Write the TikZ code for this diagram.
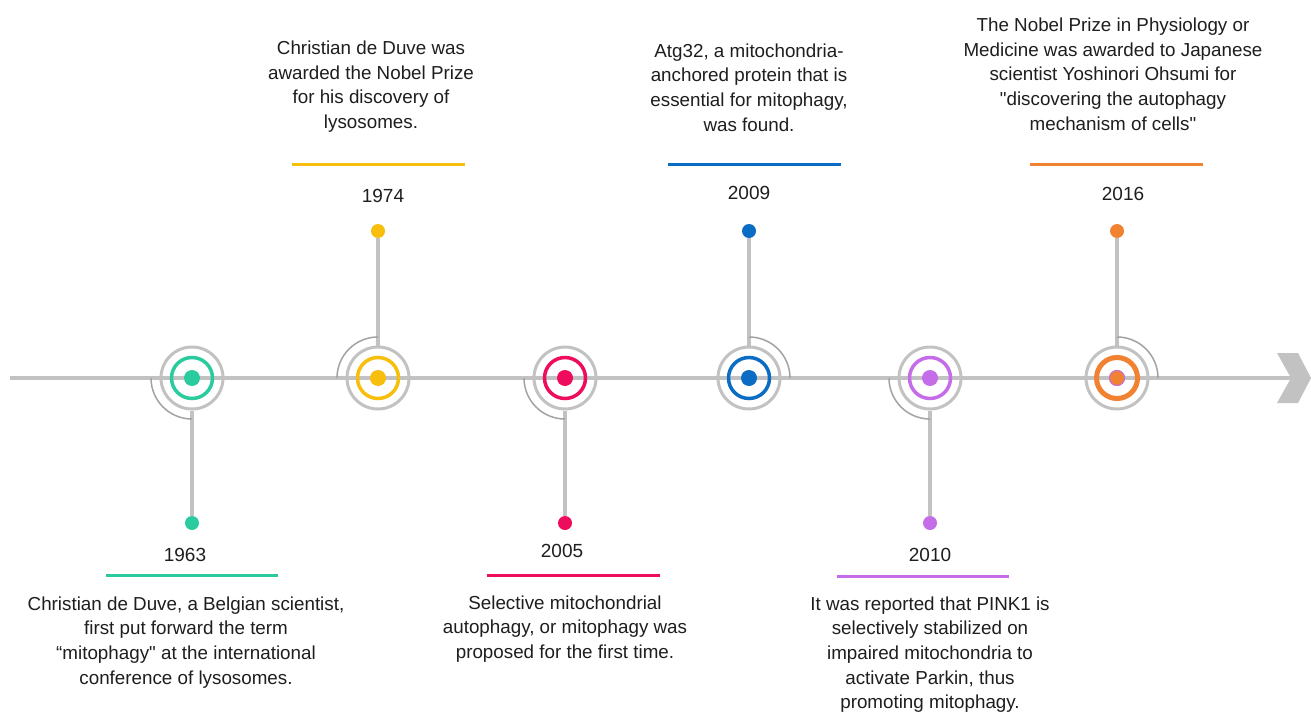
\documentclass[tikz,border=0pt]{standalone}
\usepackage{fontspec}
\setmainfont{Liberation Sans}
\begin{document}
\begin{tikzpicture}[x=1pt,y=1pt,
  axis/.style={draw=lineg,line width=4pt},
  stem/.style={draw=lineg,line width=4pt},
  hook/.style={draw=arcg,line width=1.5pt},
  outer/.style={circle,draw=lineg,line width=3pt,minimum size=62pt,inner sep=0pt},
  ring/.style={circle,line width=3.5pt,minimum size=41pt,inner sep=0pt},
  core/.style={circle,minimum size=16pt,inner sep=0pt},
  tip/.style={circle,minimum size=14pt,inner sep=0pt},
  bar/.style={line width=3pt},
  year/.style={font=\fontsize{19}{23}\selectfont,text=txt},
  desc/.style={font=\fontsize{18.8}{24.7}\selectfont,text=txt,align=center},
]
\definecolor{lineg}{HTML}{C2C2C2}
\definecolor{arcg}{HTML}{A3A3A3}
\definecolor{txt}{HTML}{1E1E1E}
\definecolor{cteal}{HTML}{2BCBA0}
\definecolor{cyel}{HTML}{F7BF0B}
\definecolor{cpink}{HTML}{EE0C5D}
\definecolor{cblue}{HTML}{0B6CC3}
\definecolor{cpurp}{HTML}{C56DE8}
\definecolor{corng}{HTML}{F08231}

\fill[white] (0,0) rectangle (1311,-714);
\useasboundingbox (0,0) rectangle (1311,-714);

% timeline axis and end chevron
\coordinate (start) at (10,-378);
\coordinate (finish) at (1291,-378);
\draw[axis] (start) -- (finish);
\fill[lineg] (1277,-353) -- (1298,-353) -- (1311,-378) -- (1298,-403)
  -- (1277,-403) -- (1291,-378) -- cycle;

% event markers: x position / colour / name
\foreach \x/\c/\n in {192/cteal/a,378/cyel/b,565/cpink/c,749/cblue/d,930/cpurp/e,1117/corng/f}{
  \node[outer] (o\n) at (\x,-378) {};
  \node[ring,draw=\c] (r\n) at (\x,-378) {};
  \node[core,fill=\c] (k\n) at (\x,-378) {};
}

% stems down to lower dots
\foreach \x/\c/\n in {192/cteal/a,565/cpink/c,930/cpurp/e}{
  \node[tip,fill=\c] (t\n) at (\x,-523) {};
  \draw[stem] (o\n.south) -- (t\n);
  \draw[hook] (\x-41,-378) arc[start angle=180,end angle=270,radius=41pt];
}
% stems up to upper dots
\foreach \x/\c/\n in {378/cyel/b,749/cblue/d,1117/corng/f}{
  \node[tip,fill=\c] (t\n) at (\x,-231) {};
  \draw[stem] (o\n.north) -- (t\n);
}
\draw[hook] (378-41,-378) arc[start angle=180,end angle=90,radius=41pt];
\draw[hook] (749,-337) arc[start angle=90,end angle=0,radius=41pt];
\draw[hook] (1117,-337) arc[start angle=90,end angle=0,radius=41pt];

% thicker ring and outlined core on the last event
\node[ring,draw=corng,line width=5pt] at (1117,-378) {};
\node[core,fill=corng,draw=cpurp,line width=1pt,minimum size=15pt] at (1117,-378) {};

% coloured bars
\coordinate (ba1) at (106,-575); \coordinate (ba2) at (278,-575);
\coordinate (bb1) at (292,-165); \coordinate (bb2) at (465,-165);
\coordinate (bc1) at (487,-575); \coordinate (bc2) at (660,-575);
\coordinate (bd1) at (668,-165); \coordinate (bd2) at (841,-165);
\coordinate (be1) at (837,-576); \coordinate (be2) at (1009,-576);
\coordinate (bf1) at (1030,-165); \coordinate (bf2) at (1203,-165);
\draw[bar,cteal] (ba1) -- (ba2);
\draw[bar,cyel] (bb1) -- (bb2);
\draw[bar,cpink] (bc1) -- (bc2);
\draw[bar,cblue] (bd1) -- (bd2);
\draw[bar,cpurp] (be1) -- (be2);
\draw[bar,corng] (bf1) -- (bf2);

% years
\node[year] (ya) at (185,-555) {1963};
\node[year] (yb) at (383,-196) {1974};
\node[year] (yc) at (562,-551) {2005};
\node[year] (yd) at (749,-193) {2009};
\node[year] (ye) at (930,-555) {2010};
\node[year] (yf) at (1123,-194) {2016};

% descriptions
\node[desc,anchor=north] (da) at (186,-593) {Christian de Duve, a Belgian scientist,\\first put forward the term\\“mitophagy\textquotedbl{} at the international\\conference of lysosomes.};
\node[desc,anchor=south] (db) at (371,-136) {Christian de Duve was\\awarded the Nobel Prize\\for his discovery of\\lysosomes.};
\node[desc,anchor=north] (dc) at (565,-592) {Selective mitochondrial\\autophagy, or mitophagy was\\proposed for the first time.};
\node[desc,anchor=south] (dd) at (749,-135) {Atg32, a mitochondria-\\anchored protein that is\\essential for mitophagy,\\was found.};
\node[desc,anchor=north] (de) at (930,-593) {It was reported that PINK1 is\\selectively stabilized on\\impaired mitochondria to\\activate Parkin, thus\\promoting mitophagy.};
\node[desc,anchor=south] (df) at (1113,-134) {The Nobel Prize in Physiology or\\Medicine was awarded to Japanese\\scientist Yoshinori Ohsumi for\\\textquotedbl{}discovering the autophagy\\mechanism of cells\textquotedbl};
\end{tikzpicture}
\end{document}
